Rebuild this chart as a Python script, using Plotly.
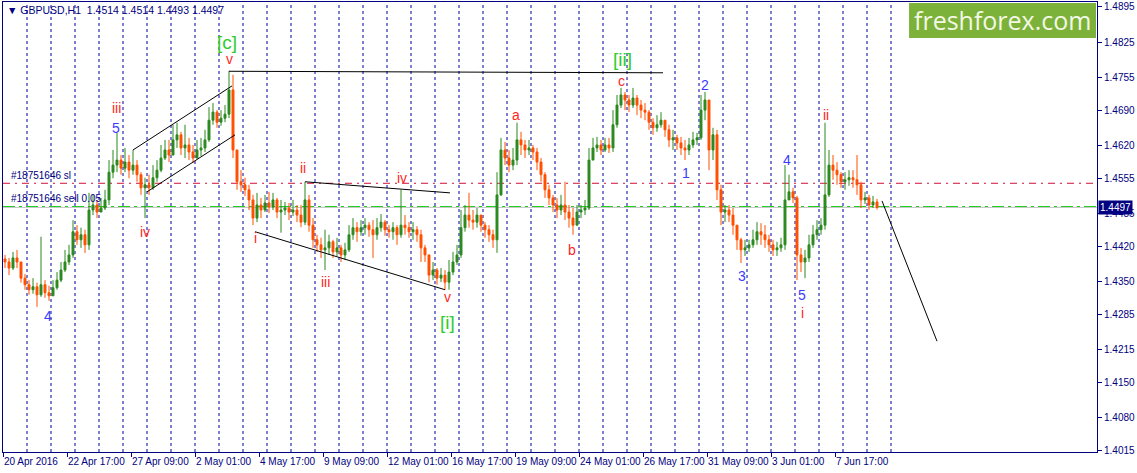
import plotly.graph_objects as go

# ---------------- data (GBPUSD H1, grouped into 4-hour bars) ----------------
bar_hours = 4
first_open = 1.4395

close = [
    1.4389, 1.4377, 1.4397, 1.4389, 1.4357, 1.4344, 1.4334, 1.4340, 1.4324, 1.4344,
    1.4328, 1.4322, 1.4338, 1.4353, 1.4373, 1.4389, 1.4403, 1.4449, 1.4433, 1.4443,
    1.4423, 1.4492, 1.4502, 1.4488, 1.4496, 1.4512, 1.4567, 1.4581, 1.4591, 1.4575,
    1.4587, 1.4571, 1.4581, 1.4562, 1.4536, 1.4542, 1.4536, 1.4556, 1.4571, 1.4595,
    1.4611, 1.4601, 1.4631, 1.4641, 1.4615, 1.4621, 1.4607, 1.4595, 1.4611, 1.4615,
    1.4631, 1.4670, 1.4686, 1.4666, 1.4674, 1.4682, 1.4730, 1.4611, 1.4548, 1.4542,
    1.4532, 1.4512, 1.4476, 1.4502, 1.4492, 1.4506, 1.4498, 1.4512, 1.4488, 1.4492,
    1.4496, 1.4488, 1.4492, 1.4482, 1.4468, 1.4512, 1.4462, 1.4433, 1.4423, 1.4413,
    1.4417, 1.4429, 1.4409, 1.4417, 1.4403, 1.4413, 1.4443, 1.4457, 1.4449, 1.4457,
    1.4462, 1.4453, 1.4443, 1.4457, 1.4468, 1.4453, 1.4449, 1.4457, 1.4443, 1.4462,
    1.4457, 1.4449, 1.4453, 1.4443, 1.4417, 1.4403, 1.4363, 1.4373, 1.4357, 1.4363,
    1.4349, 1.4369, 1.4389, 1.4403, 1.4457, 1.4482, 1.4472, 1.4468, 1.4482, 1.4462,
    1.4453, 1.4443, 1.4433, 1.4522, 1.4611, 1.4595, 1.4581, 1.4591, 1.4631, 1.4621,
    1.4611, 1.4615, 1.4607, 1.4587, 1.4562, 1.4532, 1.4516, 1.4502, 1.4492, 1.4502,
    1.4488, 1.4476, 1.4462, 1.4488, 1.4492, 1.4496, 1.4591, 1.4615, 1.4621, 1.4611,
    1.4621, 1.4615, 1.4661, 1.4700, 1.4720, 1.4710, 1.4700, 1.4714, 1.4700, 1.4690,
    1.4686, 1.4666, 1.4655, 1.4661, 1.4670, 1.4651, 1.4631, 1.4635, 1.4625, 1.4615,
    1.4611, 1.4621, 1.4631, 1.4635, 1.4690, 1.4710, 1.4611, 1.4641, 1.4532, 1.4488,
    1.4492, 1.4482, 1.4462, 1.4433, 1.4413, 1.4417, 1.4423, 1.4433, 1.4449, 1.4443,
    1.4433, 1.4423, 1.4413, 1.4417, 1.4423, 1.4512, 1.4528, 1.4516, 1.4403, 1.4389,
    1.4397, 1.4423, 1.4443, 1.4453, 1.4462, 1.4522, 1.4581, 1.4571, 1.4562, 1.4548,
    1.4552, 1.4556, 1.4552, 1.4542, 1.4512, 1.4516, 1.4502, 1.4508, 1.4497,
]

high = [
    1.4403, 1.4397, 1.4409, 1.4413, 1.4389, 1.4365, 1.4353, 1.4357, 1.4348, 1.4439,
    1.4353, 1.4342, 1.4353, 1.4369, 1.4389, 1.4413, 1.4423, 1.4472, 1.4462, 1.4457,
    1.4453, 1.4526, 1.4522, 1.4512, 1.4516, 1.4532, 1.4591, 1.4611, 1.4645, 1.4601,
    1.4615, 1.4601, 1.4611, 1.4591, 1.4567, 1.4556, 1.4562, 1.4581, 1.4591, 1.4621,
    1.4631, 1.4631, 1.4661, 1.4665, 1.4647, 1.4661, 1.4635, 1.4621, 1.4631, 1.4635,
    1.4651, 1.4696, 1.4704, 1.4690, 1.4690, 1.4700, 1.4768, 1.4760, 1.4611, 1.4571,
    1.4556, 1.4542, 1.4522, 1.4526, 1.4516, 1.4522, 1.4528, 1.4526, 1.4516, 1.4512,
    1.4508, 1.4506, 1.4512, 1.4502, 1.4502, 1.4548, 1.4522, 1.4476, 1.4443, 1.4437,
    1.4453, 1.4443, 1.4433, 1.4437, 1.4423, 1.4427, 1.4462, 1.4476, 1.4468, 1.4472,
    1.4476, 1.4468, 1.4472, 1.4476, 1.4484, 1.4472, 1.4462, 1.4468, 1.4462, 1.4532,
    1.4482, 1.4468, 1.4468, 1.4460, 1.4453, 1.4423, 1.4403, 1.4389, 1.4377, 1.4377,
    1.4373, 1.4393, 1.4409, 1.4423, 1.4492, 1.4502, 1.4526, 1.4492, 1.4496, 1.4482,
    1.4468, 1.4462, 1.4453, 1.4567, 1.4635, 1.4627, 1.4611, 1.4615, 1.4665, 1.4647,
    1.4631, 1.4631, 1.4621, 1.4615, 1.4595, 1.4567, 1.4542, 1.4522, 1.4516, 1.4522,
    1.4548, 1.4502, 1.4496, 1.4502, 1.4502, 1.4512, 1.4615, 1.4635, 1.4637, 1.4631,
    1.4635, 1.4635, 1.4690, 1.4720, 1.4734, 1.4726, 1.4720, 1.4734, 1.4720, 1.4710,
    1.4704, 1.4690, 1.4674, 1.4680, 1.4686, 1.4670, 1.4661, 1.4651, 1.4641, 1.4637,
    1.4631, 1.4635, 1.4647, 1.4645, 1.4720, 1.4726, 1.4710, 1.4655, 1.4651, 1.4542,
    1.4502, 1.4502, 1.4496, 1.4462, 1.4437, 1.4433, 1.4433, 1.4453, 1.4468, 1.4466,
    1.4462, 1.4443, 1.4433, 1.4429, 1.4437, 1.4581, 1.4562, 1.4536, 1.4520, 1.4417,
    1.4413, 1.4443, 1.4462, 1.4472, 1.4476, 1.4665, 1.4611, 1.4601, 1.4587, 1.4567,
    1.4567, 1.4571, 1.4571, 1.4601, 1.4548, 1.4528, 1.4522, 1.4520, 1.4514,
]

low = [
    1.4377, 1.4363, 1.4373, 1.4377, 1.4348, 1.4334, 1.4324, 1.4326, 1.4300, 1.4320,
    1.4318, 1.4312, 1.4322, 1.4334, 1.4349, 1.4369, 1.4383, 1.4397, 1.4423, 1.4417,
    1.4407, 1.4413, 1.4482, 1.4476, 1.4488, 1.4492, 1.4502, 1.4555, 1.4567, 1.4562,
    1.4567, 1.4555, 1.4562, 1.4548, 1.4522, 1.4476, 1.4522, 1.4532, 1.4548, 1.4567,
    1.4591, 1.4587, 1.4601, 1.4615, 1.4601, 1.4595, 1.4591, 1.4585, 1.4595, 1.4599,
    1.4607, 1.4627, 1.4661, 1.4655, 1.4659, 1.4666, 1.4674, 1.4595, 1.4532, 1.4528,
    1.4520, 1.4492, 1.4462, 1.4468, 1.4476, 1.4488, 1.4486, 1.4492, 1.4476, 1.4447,
    1.4482, 1.4472, 1.4480, 1.4468, 1.4458, 1.4462, 1.4449, 1.4417, 1.4409, 1.4397,
    1.4373, 1.4403, 1.4397, 1.4401, 1.4389, 1.4393, 1.4409, 1.4433, 1.4429, 1.4441,
    1.4443, 1.4439, 1.4397, 1.4433, 1.4449, 1.4441, 1.4437, 1.4433, 1.4423, 1.4437,
    1.4443, 1.4437, 1.4433, 1.4429, 1.4389, 1.4389, 1.4349, 1.4353, 1.4344, 1.4349,
    1.4334, 1.4334, 1.4363, 1.4383, 1.4397, 1.4449, 1.4457, 1.4453, 1.4457, 1.4449,
    1.4437, 1.4429, 1.4417, 1.4407, 1.4520, 1.4581, 1.4567, 1.4571, 1.4581, 1.4601,
    1.4595, 1.4601, 1.4591, 1.4571, 1.4548, 1.4516, 1.4502, 1.4488, 1.4476, 1.4482,
    1.4472, 1.4457, 1.4443, 1.4462, 1.4476, 1.4482, 1.4492, 1.4591, 1.4607, 1.4601,
    1.4607, 1.4605, 1.4607, 1.4655, 1.4694, 1.4690, 1.4686, 1.4694, 1.4680, 1.4674,
    1.4670, 1.4651, 1.4641, 1.4647, 1.4655, 1.4637, 1.4617, 1.4611, 1.4611, 1.4601,
    1.4591, 1.4601, 1.4615, 1.4621, 1.4631, 1.4670, 1.4571, 1.4591, 1.4512, 1.4462,
    1.4468, 1.4468, 1.4443, 1.4413, 1.4387, 1.4401, 1.4409, 1.4417, 1.4423, 1.4423,
    1.4417, 1.4409, 1.4401, 1.4401, 1.4409, 1.4413, 1.4512, 1.4506, 1.4353, 1.4369,
    1.4357, 1.4389, 1.4417, 1.4433, 1.4443, 1.4453, 1.4518, 1.4552, 1.4542, 1.4536,
    1.4532, 1.4540, 1.4536, 1.4522, 1.4496, 1.4504, 1.4492, 1.4496, 1.4493,
]

# x-axis labels (trading-hour index -> label)
tick_hours = [0, 64, 128, 192, 256, 320, 384, 448, 512, 576, 640, 704, 768, 832]
tick_labels = ["20 Apr 2016", "22 Apr 17:00", "27 Apr 09:00", "2 May 01:00", "4 May 17:00",
               "9 May 09:00", "12 May 01:00", "16 May 17:00", "19 May 09:00", "24 May 01:00",
               "26 May 17:00", "31 May 09:00", "3 Jun 01:00", "7 Jun 17:00"]
price_ticks = [1.4895, 1.4825, 1.4755, 1.4690, 1.4620, 1.4555, 1.4485, 1.4420,
               1.4350, 1.4285, 1.4215, 1.4150, 1.4080, 1.4015]
price_tick_text = ["%.4f" % p for p in price_ticks]

# day separators (trading hours of each day start)
day_starts = list(range(24, 889, 24))

# order levels
sl_level = 1.4545
entry_level = 1.4499
bid_level = 1.4497

# wave counts: text, hour, price, kind
wave_text = ["4", "5", "iii", "iv", "[c]", "v", "i", "ii", "iii", "iv", "v", "[i]",
             "a", "b", "[ii]", "c", "1", "2", "3", "4", "5", "i", "ii"]
wave_hour = [45, 113, 113, 142, 224, 226, 252, 300, 322, 399, 444, 444,
             513, 569, 619, 618, 683, 702, 739, 784, 799, 799, 823]
wave_price = [1.4282, 1.4655, 1.4694, 1.4449, 1.4825, 1.4791, 1.4437, 1.4575, 1.4349, 1.4556,
              1.4320, 1.4270, 1.4680, 1.4413, 1.4791, 1.4748, 1.4566, 1.4740, 1.4361, 1.4591,
              1.4324, 1.4288, 1.4680]
wave_kind = ["minor", "minor", "roman", "roman", "major", "roman", "roman", "roman", "roman",
             "roman", "roman", "major", "roman", "roman", "major", "roman", "minor", "minor",
             "minor", "minor", "minor", "roman", "roman"]

# trend lines drawn on the chart: ((hour, price), (hour, price))
trend_lines = [
    ((226, 1.4767), (660, 1.4764)),   # [c] high level
    ((130, 1.4611), (229, 1.4738)),   # channel upper
    ((144, 1.4528), (232, 1.4641)),   # channel lower
    ((302, 1.4548), (447, 1.4526)),   # triangle top
    ((252, 1.4449), (442, 1.4334)),   # triangle bottom
    ((879, 1.4510), (934, 1.4232)),   # projection
]

# ---------------- figure ----------------
NAVY = "#000080"
UP = "#2b8a1f"
DOWN = "#ff5000"
kind_color = {"minor": "#3b3bff", "roman": "#ff1f1f", "major": "#2ecc2e"}
kind_size = {"minor": 14, "roman": 14, "major": 19}

x = [bar_hours * k + bar_hours / 2 for k in range(len(close))]
opens = [first_open] + close[:-1]

fig = go.Figure()

for d in day_starts:
    fig.add_shape(type="line", xref="x", yref="paper", x0=d, x1=d, y0=0, y1=1,
                  line=dict(color="#0000a0", width=1, dash="3px,3px"), layer="below")

fig.add_hline(y=bid_level, line=dict(color="#c8c8c8", width=1), layer="below")
fig.add_hline(y=sl_level, line=dict(color="#d0103a", width=1, dash="7px,5px,2px,5px"), layer="below")
fig.add_hline(y=entry_level, line=dict(color="#1fd01f", width=1, dash="12px,4px,3px,4px"), layer="below")

fig.add_trace(go.Candlestick(
    x=x, open=opens, high=high, low=low, close=close,
    increasing=dict(line=dict(color=UP, width=1), fillcolor=UP),
    decreasing=dict(line=dict(color=DOWN, width=1), fillcolor=DOWN),
    whiskerwidth=0, hoverinfo="skip", showlegend=False,
))

for (h0, p0), (h1, p1) in trend_lines:
    fig.add_trace(go.Scatter(x=[h0, h1], y=[p0, p1], mode="lines",
                             line=dict(color="black", width=1), hoverinfo="skip", showlegend=False))

for t, h, p, k in zip(wave_text, wave_hour, wave_price, wave_kind):
    fig.add_annotation(x=h, y=p, text=t, showarrow=False, xanchor="center", yanchor="middle",
                       font=dict(family="Liberation Sans", size=kind_size[k], color=kind_color[k]))

# order labels
fig.add_annotation(x=6, y=sl_level, text="#18751646 sl", showarrow=False, xanchor="left",
                   yanchor="bottom", font=dict(family="Liberation Sans", size=10, color=NAVY))
fig.add_annotation(x=6, y=entry_level, text="#18751646 sell 0.05", showarrow=False, xanchor="left",
                   yanchor="bottom", font=dict(family="Liberation Sans", size=10, color=NAVY))

# header
fig.add_annotation(xref="paper", yref="paper", x=0.002, y=0.999, xanchor="left", yanchor="top",
                   text="\u25bc GBPUSD,H1  1.4514 1.4514 1.4493 1.4497", showarrow=False,
                   font=dict(family="Liberation Sans", size=10.5, color=NAVY))

# current price box
fig.add_annotation(xref="paper", x=1.0, y=bid_level, xanchor="left", yanchor="middle",
                   text="1.4497", showarrow=False, bgcolor=NAVY, borderpad=1, xshift=1,
                   font=dict(family="Liberation Sans", size=10, color="white"))

# logo
fig.add_shape(type="rect", xref="paper", yref="paper", x0=0.8282, x1=0.9991, y0=0.920, y1=0.998,
              fillcolor="#7db23a", line=dict(width=0), layer="above")
fig.add_annotation(xref="paper", yref="paper", x=0.914, y=0.959, text="freshforex.com", showarrow=False,
                   xanchor="center", yanchor="middle",
                   font=dict(family="Open Sans", size=25, color="#f3f8e4"))

fig.update_layout(
    width=1137, height=473, autosize=False,
    margin=dict(l=3, r=40, t=2, b=21),
    paper_bgcolor="white", plot_bgcolor="white",
    showlegend=False,
    xaxis=dict(range=[0, 1094], rangeslider=dict(visible=False), showgrid=False, zeroline=False,
               showline=True, linecolor=NAVY, linewidth=1, mirror=True,
               tickmode="array", tickvals=tick_hours, ticktext=tick_labels, tickangle=0,
               ticks="outside", ticklen=4, tickcolor=NAVY, ticklabelposition="outside right",
               tickfont=dict(family="Liberation Sans", size=10, color=NAVY)),
    yaxis=dict(range=[1.40124, 1.49043], side="right", showgrid=False, zeroline=False,
               showline=True, linecolor=NAVY, linewidth=1, mirror=True,
               tickmode="array", tickvals=price_ticks, ticktext=price_tick_text,
               ticks="outside", ticklen=4, tickcolor=NAVY,
               tickfont=dict(family="Liberation Sans", size=10, color=NAVY)),
)

fig.write_html("out.html", config={"displayModeBar": False},
               post_script="document.body.style.margin='0';document.body.style.overflow='hidden';")
